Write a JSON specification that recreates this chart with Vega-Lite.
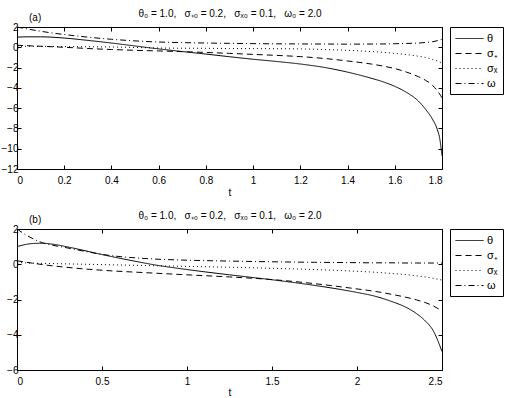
{
  "$schema": "https://vega.github.io/schema/vega-lite/v6.json",
  "padding": {"left": 0, "top": 8, "right": 0, "bottom": 0},
  "datasets": {
    "a": [
      {"t": 0, "th": 1.0, "sp": 0.2, "sx": 0.1, "om": 2.0},
      {"t": 0.05, "th": 1.03, "sp": 0.15, "sx": 0.1, "om": 1.78},
      {"t": 0.1, "th": 1.03, "sp": 0.1, "sx": 0.09, "om": 1.58},
      {"t": 0.2, "th": 0.91, "sp": 0.0, "sx": 0.07, "om": 1.26},
      {"t": 0.3, "th": 0.68, "sp": -0.12, "sx": 0.05, "om": 1.0},
      {"t": 0.4, "th": 0.42, "sp": -0.22, "sx": 0.03, "om": 0.79},
      {"t": 0.5, "th": 0.13, "sp": -0.3, "sx": -0.02, "om": 0.63},
      {"t": 0.6, "th": -0.16, "sp": -0.36, "sx": -0.07, "om": 0.52},
      {"t": 0.7, "th": -0.42, "sp": -0.43, "sx": -0.09, "om": 0.46},
      {"t": 0.8, "th": -0.67, "sp": -0.51, "sx": -0.1, "om": 0.42},
      {"t": 0.9, "th": -0.93, "sp": -0.6, "sx": -0.12, "om": 0.39},
      {"t": 1.0, "th": -1.18, "sp": -0.7, "sx": -0.13, "om": 0.36},
      {"t": 1.1, "th": -1.4, "sp": -0.8, "sx": -0.14, "om": 0.34},
      {"t": 1.2, "th": -1.65, "sp": -0.92, "sx": -0.16, "om": 0.33},
      {"t": 1.3, "th": -1.98, "sp": -1.1, "sx": -0.22, "om": 0.32},
      {"t": 1.4, "th": -2.45, "sp": -1.35, "sx": -0.3, "om": 0.31},
      {"t": 1.5, "th": -3.05, "sp": -1.65, "sx": -0.42, "om": 0.32},
      {"t": 1.55, "th": -3.4, "sp": -1.85, "sx": -0.5, "om": 0.33},
      {"t": 1.6, "th": -3.85, "sp": -2.1, "sx": -0.6, "om": 0.35},
      {"t": 1.65, "th": -4.45, "sp": -2.45, "sx": -0.72, "om": 0.38},
      {"t": 1.7, "th": -5.3, "sp": -2.9, "sx": -0.88, "om": 0.42},
      {"t": 1.73, "th": -6.1, "sp": -3.25, "sx": -1.0, "om": 0.47},
      {"t": 1.76, "th": -7.1, "sp": -3.75, "sx": -1.2, "om": 0.55},
      {"t": 1.78, "th": -8.1, "sp": -4.3, "sx": -1.35, "om": 0.65},
      {"t": 1.79, "th": -8.95, "sp": -4.6, "sx": -1.45, "om": 0.72},
      {"t": 1.8, "th": -10.7, "sp": -5.0, "sx": -1.55, "om": 0.8}
    ],
    "b": [
      {"t": 0, "th": 1.0, "sp": 0.2, "sx": 0.1, "om": 2.0},
      {"t": 0.05, "th": 1.12, "sp": 0.12, "sx": 0.08, "om": 1.68},
      {"t": 0.1, "th": 1.18, "sp": 0.05, "sx": 0.06, "om": 1.42},
      {"t": 0.15, "th": 1.19, "sp": -0.02, "sx": 0.05, "om": 1.22},
      {"t": 0.2, "th": 1.15, "sp": -0.08, "sx": 0.04, "om": 1.1},
      {"t": 0.3, "th": 0.98, "sp": -0.18, "sx": 0.02, "om": 0.92},
      {"t": 0.4, "th": 0.77, "sp": -0.27, "sx": 0.0, "om": 0.73},
      {"t": 0.5, "th": 0.55, "sp": -0.34, "sx": -0.02, "om": 0.56},
      {"t": 0.6, "th": 0.35, "sp": -0.4, "sx": -0.04, "om": 0.44},
      {"t": 0.7, "th": 0.16, "sp": -0.45, "sx": -0.06, "om": 0.36},
      {"t": 0.8, "th": -0.02, "sp": -0.5, "sx": -0.08, "om": 0.3},
      {"t": 1.0, "th": -0.3, "sp": -0.6, "sx": -0.12, "om": 0.23},
      {"t": 1.25, "th": -0.6, "sp": -0.72, "sx": -0.17, "om": 0.18},
      {"t": 1.5, "th": -0.88, "sp": -0.87, "sx": -0.23, "om": 0.14},
      {"t": 1.75, "th": -1.2, "sp": -1.1, "sx": -0.3, "om": 0.11},
      {"t": 2.0, "th": -1.6, "sp": -1.4, "sx": -0.4, "om": 0.09},
      {"t": 2.1, "th": -1.8, "sp": -1.53, "sx": -0.45, "om": 0.08},
      {"t": 2.2, "th": -2.1, "sp": -1.7, "sx": -0.52, "om": 0.08},
      {"t": 2.3, "th": -2.5, "sp": -1.9, "sx": -0.6, "om": 0.07},
      {"t": 2.35, "th": -2.8, "sp": -2.02, "sx": -0.66, "om": 0.07},
      {"t": 2.4, "th": -3.2, "sp": -2.17, "sx": -0.72, "om": 0.07},
      {"t": 2.45, "th": -3.8, "sp": -2.37, "sx": -0.8, "om": 0.07},
      {"t": 2.5, "th": -4.95, "sp": -2.65, "sx": -0.9, "om": 0.07}
    ]
  },
  "config": {
    "font": "Liberation Sans",
    "view": {"stroke": "black", "strokeWidth": 1},
    "axis": {
      "grid": false, "domain": false,
      "labelFontSize": 10, "labelColor": "black",
      "tickColor": "black", "tickSize": -4,
      "labelPadding": 3,
      "titleFontSize": 10, "titleFontWeight": "normal", "titleColor": "black"
    },
    "legend": {
      "strokeColor": "black", "fillColor": "white", "padding": 5, "cornerRadius": 0,
      "labelFontSize": 11, "labelColor": "black", "labelFont": "Liberation Sans",
      "rowPadding": 3, "offset": 6
    },
    "title": {"fontSize": 10, "fontWeight": "normal", "color": "black"}
  },
  "spacing": 12,
  "vconcat": [
    {
      "width": 425, "height": 142,
      "title": {"text": "(a)", "anchor": "start", "frame": "group", "dx": 12, "offset": -14},
      "data": {"name": "a"},
      "transform": [{"fold": ["th", "sp", "sx", "om"], "as": ["s", "v"]}],
      "layer": [
        {
          "mark": {"type": "line", "color": "black", "strokeWidth": 1, "interpolate": "monotone"},
          "encoding": {
            "x": {"field": "t", "type": "quantitative", "scale": {"domain": [0, 1.8], "nice": false, "zero": false},
                  "axis": {"orient": "bottom", "values": [0, 0.2, 0.4, 0.6, 0.8, 1, 1.2, 1.4, 1.6, 1.8], "format": "~g", "title": "t", "labelPadding": 10, "titlePadding": 2}},
            "y": {"field": "v", "type": "quantitative", "scale": {"domain": [-12, 2], "nice": false, "zero": false},
                  "axis": {"orient": "left", "values": [2, 0, -2, -4, -6, -8, -10, -12], "title": null}},
            "strokeDash": {"field": "s", "type": "nominal",
                  "scale": {"domain": ["th", "sp", "sx", "om"], "range": [[1, 0], [6, 4], [1, 3], [6, 3, 1, 3]]},
                  "legend": {"title": null, "orient": "right", "symbolType": "M-1,0H3.67", "symbolSize": 144, "labelOffset": 19, "symbolStrokeWidth": 1, "symbolStrokeColor": "black",
                             "labelExpr": "datum.value == 'th' ? 'θ' : datum.value == 'sp' ? 'σ₊' : datum.value == 'sx' ? 'σₓ' : 'ω'"}}
          }
        },
        {
          "mark": {"type": "point", "opacity": 0},
          "encoding": {
            "x": {"field": "t", "type": "quantitative", "scale": {"domain": [0, 1.8], "nice": false, "zero": false},
                  "axis": {"orient": "top", "values": [0, 0.2, 0.4, 0.6, 0.8, 1, 1.2, 1.4, 1.6, 1.8], "labels": false, "title": "θ₀ = 1.0,\u00a0\u00a0 σ₊₀ = 0.2,\u00a0\u00a0 σₓ₀ = 0.1,\u00a0\u00a0 ω₀ = 2.0", "titlePadding": 8}},
            "y": {"field": "v", "type": "quantitative", "scale": {"domain": [-12, 2], "nice": false, "zero": false},
                  "axis": {"orient": "right", "values": [2, 0, -2, -4, -6, -8, -10, -12], "labels": false, "title": null}}
          }
        }
      ],
      "resolve": {"axis": {"x": "independent", "y": "independent"}}
    },
    {
      "width": 425, "height": 141,
      "title": {"text": "(b)", "anchor": "start", "frame": "group", "dx": 12, "offset": -14},
      "data": {"name": "b"},
      "transform": [{"fold": ["th", "sp", "sx", "om"], "as": ["s", "v"]}],
      "layer": [
        {
          "mark": {"type": "line", "color": "black", "strokeWidth": 1, "interpolate": "monotone"},
          "encoding": {
            "x": {"field": "t", "type": "quantitative", "scale": {"domain": [0, 2.5], "nice": false, "zero": false},
                  "axis": {"orient": "bottom", "values": [0, 0.5, 1, 1.5, 2, 2.5], "format": "~g", "title": "t", "labelPadding": 10, "titlePadding": 1}},
            "y": {"field": "v", "type": "quantitative", "scale": {"domain": [-6, 2], "nice": false, "zero": false},
                  "axis": {"orient": "left", "values": [2, 0, -2, -4, -6], "title": null}},
            "strokeDash": {"field": "s", "type": "nominal",
                  "scale": {"domain": ["th", "sp", "sx", "om"], "range": [[1, 0], [6, 4], [1, 3], [6, 3, 1, 3]]},
                  "legend": {"title": null, "orient": "right", "symbolType": "M-1,0H3.67", "symbolSize": 144, "labelOffset": 19, "symbolStrokeWidth": 1, "symbolStrokeColor": "black",
                             "labelExpr": "datum.value == 'th' ? 'θ' : datum.value == 'sp' ? 'σ₊' : datum.value == 'sx' ? 'σₓ' : 'ω'"}}
          }
        },
        {
          "mark": {"type": "point", "opacity": 0},
          "encoding": {
            "x": {"field": "t", "type": "quantitative", "scale": {"domain": [0, 2.5], "nice": false, "zero": false},
                  "axis": {"orient": "top", "values": [0, 0.5, 1, 1.5, 2, 2.5], "labels": false, "title": "θ₀ = 1.0,\u00a0\u00a0 σ₊₀ = 0.2,\u00a0\u00a0 σₓ₀ = 0.1,\u00a0\u00a0 ω₀ = 2.0", "titlePadding": 8}},
            "y": {"field": "v", "type": "quantitative", "scale": {"domain": [-6, 2], "nice": false, "zero": false},
                  "axis": {"orient": "right", "values": [2, 0, -2, -4, -6], "labels": false, "title": null}}
          }
        }
      ],
      "resolve": {"axis": {"x": "independent", "y": "independent"}}
    }
  ],
  "resolve": {"legend": {"strokeDash": "independent"}, "scale": {"strokeDash": "independent"}}
}
